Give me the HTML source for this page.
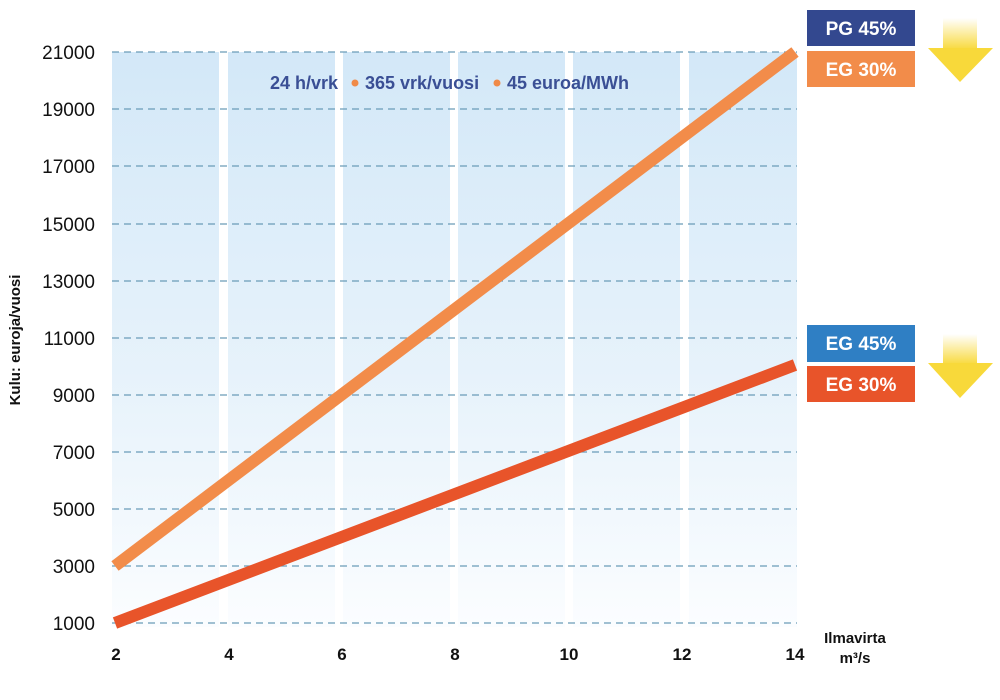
<!DOCTYPE html>
<html><head><meta charset="utf-8"><style>
html,body{margin:0;padding:0;background:#fff;}
svg{display:block;font-family:"Liberation Sans",sans-serif;}
</style></head><body>
<svg width="1000" height="700" viewBox="0 0 1000 700" xmlns="http://www.w3.org/2000/svg">
<defs>
<linearGradient id="col" x1="0" y1="0" x2="0" y2="1">
<stop offset="0" stop-color="#d3e8f8"/>
<stop offset="0.6" stop-color="#e8f3fb"/>
<stop offset="1" stop-color="#fbfdff"/>
</linearGradient>
<linearGradient id="shaft" x1="0" y1="0" x2="0" y2="1">
<stop offset="0" stop-color="#ffffff"/>
<stop offset="1" stop-color="#f8d93a"/>
</linearGradient>
</defs>
<g fill="url(#col)">
<rect x="112" y="52" width="107" height="575"/>
<rect x="228" y="52" width="107" height="575"/>
<rect x="343" y="52" width="107" height="575"/>
<rect x="458" y="52" width="107" height="575"/>
<rect x="573" y="52" width="107" height="575"/>
<rect x="689" y="52" width="108" height="575"/>
</g>
<g stroke="#6a9cb8" stroke-width="1.3" stroke-dasharray="7,5">
<line x1="112" y1="52" x2="797" y2="52"/>
<line x1="112" y1="109" x2="797" y2="109"/>
<line x1="112" y1="166" x2="797" y2="166"/>
<line x1="112" y1="224" x2="797" y2="224"/>
<line x1="112" y1="281" x2="797" y2="281"/>
<line x1="112" y1="338" x2="797" y2="338"/>
<line x1="112" y1="395" x2="797" y2="395"/>
<line x1="112" y1="452" x2="797" y2="452"/>
<line x1="112" y1="509" x2="797" y2="509"/>
<line x1="112" y1="566" x2="797" y2="566"/>
<line x1="112" y1="623" x2="797" y2="623"/>
</g>
<g font-size="19" fill="#111" text-anchor="end">
<text x="95" y="59">21000</text>
<text x="95" y="116">19000</text>
<text x="95" y="173">17000</text>
<text x="95" y="231">15000</text>
<text x="95" y="288">13000</text>
<text x="95" y="345">11000</text>
<text x="95" y="402">9000</text>
<text x="95" y="459">7000</text>
<text x="95" y="516">5000</text>
<text x="95" y="573">3000</text>
<text x="95" y="630">1000</text>
</g>
<g font-size="17" font-weight="bold" fill="#111" text-anchor="middle">
<text x="116" y="660">2</text>
<text x="229" y="660">4</text>
<text x="342" y="660">6</text>
<text x="455" y="660">8</text>
<text x="569" y="660">10</text>
<text x="682" y="660">12</text>
<text x="795" y="660">14</text>
</g>
<text x="855" y="643" font-size="15" font-weight="bold" text-anchor="middle" fill="#111">Ilmavirta</text>
<text x="855" y="663" font-size="15" font-weight="bold" text-anchor="middle" fill="#111">m³/s</text>
<text transform="translate(20,340) rotate(-90)" font-size="15" font-weight="bold" text-anchor="middle" fill="#111">Kulu: euroja/vuosi</text>
<text x="270" y="89" font-size="18" font-weight="bold" fill="#3a4f95">24 h/vrk</text>
<circle cx="355" cy="83" r="3.5" fill="#f08a48"/>
<text x="365" y="89" font-size="18" font-weight="bold" fill="#3a4f95">365 vrk/vuosi</text>
<circle cx="497" cy="83" r="3.5" fill="#f08a48"/>
<text x="507" y="89" font-size="18" font-weight="bold" fill="#3a4f95">45 euroa/MWh</text>
<line x1="115" y1="566" x2="795" y2="52" stroke="#f28c4a" stroke-width="12"/>
<line x1="115" y1="623" x2="795" y2="365" stroke="#e8542a" stroke-width="12"/>
<rect x="807" y="10" width="108" height="36" fill="#33488f"/>
<text x="861" y="35" font-size="19" font-weight="bold" fill="#fff" text-anchor="middle">PG 45%</text>
<rect x="807" y="51" width="108" height="36" fill="#f28c4a"/>
<text x="861" y="76" font-size="19" font-weight="bold" fill="#fff" text-anchor="middle">EG 30%</text>
<rect x="807" y="325" width="108" height="37" fill="#2f7fc4"/>
<text x="861" y="350" font-size="19" font-weight="bold" fill="#fff" text-anchor="middle">EG 45%</text>
<rect x="807" y="366" width="108" height="36" fill="#e8542a"/>
<text x="861" y="391" font-size="19" font-weight="bold" fill="#fff" text-anchor="middle">EG 30%</text>
<rect x="943" y="18" width="34" height="32" fill="url(#shaft)"/>
<polygon points="928,48 993,48 960,82" fill="#f8d93a"/>
<rect x="943" y="334" width="34" height="31" fill="url(#shaft)"/>
<polygon points="928,363 993,363 960,398" fill="#f8d93a"/>
</svg>
</body></html>
